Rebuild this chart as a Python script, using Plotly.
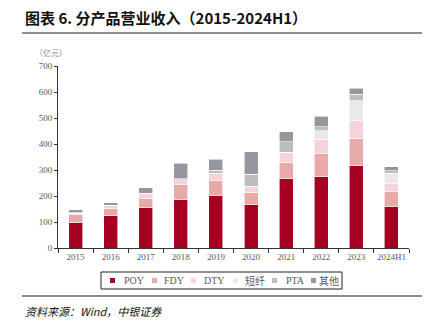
import plotly.graph_objects as go

years = ["2015", "2016", "2017", "2018", "2019", "2020", "2021", "2022", "2023", "2024H1"]
poy = [100, 124, 157, 187, 202, 167, 267, 275, 316, 161]
fdy = [27, 28, 33, 57, 58, 47, 63, 88, 107, 55]
dty = [6, 12, 18, 22, 28, 23, 38, 55, 67, 31]
dx = [1, 0, 0, 0, 0, 0, 0, 33, 77, 40]
pta = [2, 1, 2, 0, 11, 47, 40, 16, 25, 11]
other = [11, 10, 21, 60, 43, 87, 40, 40, 23, 14]

series = [
    ("POY", poy, "#A50021"),
    ("FDY", fdy, "#E8A9A9"),
    ("DTY", dty, "#F6D3DA"),
    ("短纤", dx, "#E9E9E9"),
    ("PTA", pta, "#BDBDBD"),
    ("其他", other, "#96969F"),
]

L, R, T, B = 58, 23, 66, 74
W, H = 432, 322
pw, ph = W - L - R, H - T - B

def px(x):
    return (x - L) / pw

def py(y):
    return (H - B - y) / ph

fig = go.Figure()
for name, vals, col in series:
    fig.add_trace(go.Bar(x=years, y=vals, name=name,
                         marker=dict(color=col, line=dict(color="white", width=0.6))))

font_serif = "Liberation Serif, Times New Roman, serif"
fig.update_layout(
    width=W, height=H,
    margin=dict(l=L, r=R, t=T, b=B),
    barmode="stack", bargap=0.6,
    plot_bgcolor="white", paper_bgcolor="white",
    font=dict(family=font_serif, size=9, color="#595959"),
    showlegend=False,
    xaxis=dict(type="category", showline=True, linecolor="#333333", linewidth=1,
               ticks="outside", tickson="boundaries", ticklen=4, tickcolor="#333333",
               tickangle=0, tickfont=dict(size=9, color="#595959"), showgrid=False),
    yaxis=dict(range=[0, 700], dtick=100, showline=True, linecolor="#333333", linewidth=1,
               ticks="outside", ticklen=3, tickcolor="#333333", showgrid=False,
               tickfont=dict(size=9, color="#595959"), zeroline=False),
)

# legend drawn from the series list
sq_x = [110, 152, 191, 233, 272, 311]
tx_x = [122, 162, 202, 243, 284, 317]
for (name, vals, col), sx, tx in zip(series, sq_x, tx_x):
    fig.add_shape(type="rect", xref="paper", yref="paper", x0=px(sx), x1=px(sx + 5),
                  y0=py(278), y1=py(283), fillcolor=col, line=dict(width=0))
    fig.add_annotation(text=name, xref="paper", yref="paper",
                       x=px(tx), y=py(280.5), xanchor="left", yanchor="middle", showarrow=False,
                       font=dict(family="Liberation Serif, Noto Sans CJK SC", size=10, color="#595959"))
fig.add_shape(type="rect", xref="paper", yref="paper", x0=px(101), x1=px(342), y0=py(272), y1=py(289),
              line=dict(color="#222222", width=1))

fig.add_annotation(text="<b>图表 6. 分产品营业收入（2015-2024H1）</b>", xref="paper", yref="paper",
                   x=px(23), y=py(17), xanchor="left", yanchor="middle", showarrow=False,
                   font=dict(family="Noto Sans CJK SC, serif", size=15, color="#111111"))
fig.add_annotation(text="（亿元）", xref="paper", yref="paper",
                   x=px(33), y=py(52), xanchor="left", yanchor="middle", showarrow=False,
                   font=dict(family="Noto Sans CJK SC", size=8, color="#8a8a8a"))
fig.add_annotation(text="<i>资料来源：Wind，中银证券</i>", xref="paper", yref="paper",
                   x=px(23), y=py(311), xanchor="left", yanchor="middle", showarrow=False,
                   font=dict(family="Noto Sans CJK SC, serif", size=11, color="#111111"))
fig.add_shape(type="line", xref="paper", yref="paper", x0=px(22), x1=px(422), y0=py(33), y1=py(33),
              line=dict(color="#222222", width=1.2))
fig.add_shape(type="line", xref="paper", yref="paper", x0=px(22), x1=px(422), y0=py(296), y1=py(296),
              line=dict(color="#8c8c8c", width=2))

fig.write_html("out.html")
